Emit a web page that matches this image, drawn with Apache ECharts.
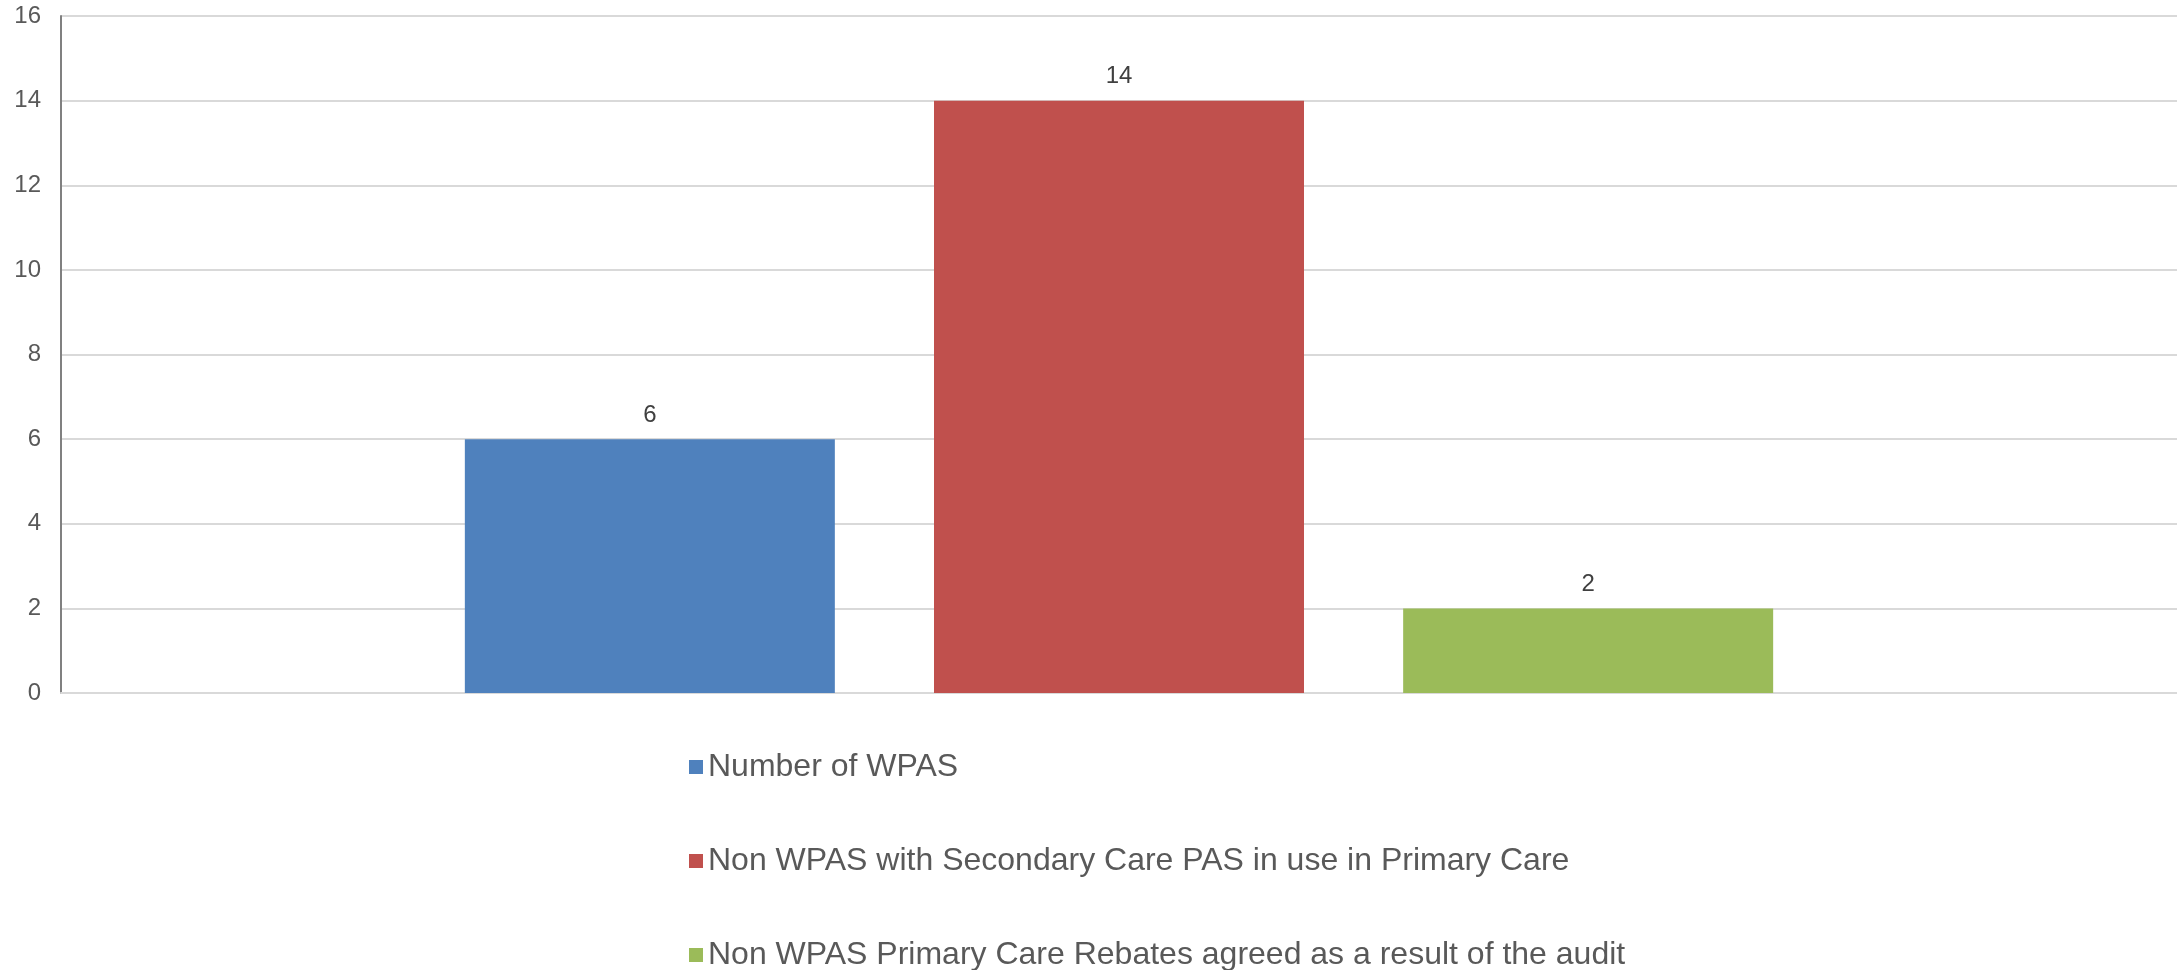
<!DOCTYPE html>
<html>
<head>
<meta charset="utf-8">
<script src="https://cdn.jsdelivr.net/npm/echarts@6/dist/echarts.min.js"></script>
<style>
  html, body { margin: 0; padding: 0; background: #fff; }
  #chart { width: 2177px; height: 970px; }
</style>
</head>
<body>
<div id="chart"></div>
<script>
// data
const categories = [''];
const seriesNames = [
  'Number of WPAS',
  'Non WPAS with Secondary Care PAS in use in Primary Care',
  'Non WPAS Primary Care Rebates agreed as a result of the audit'
];
const seriesValues = [[6], [14], [2]];
const yTicks = { min: 0, max: 16, step: 2 };

const chart = echarts.init(document.getElementById('chart'));
const font = '"Liberation Sans", Arial, sans-serif';

const option = {
  animation: false,
  color: ['#4f81bd', '#c0504d', '#9bbb59'],
  textStyle: { fontFamily: font },
  grid: { left: 61, right: 0, top: 16, bottom: 277 },
  legend: {
    orient: 'vertical',
    left: 689,
    top: 751,
    height: 400,
    padding: 0,
    icon: 'rect',
    itemWidth: 14,
    itemHeight: 14,
    itemGap: 62,
    textStyle: { fontSize: 32, color: '#595959', fontFamily: font },
    data: seriesNames
  },
  xAxis: {
    type: 'category',
    data: categories,
    axisLine: { lineStyle: { color: '#d9d9d9', width: 2 } },
    axisTick: { show: false },
    axisLabel: { show: false }
  },
  yAxis: {
    type: 'value',
    min: yTicks.min,
    max: yTicks.max,
    interval: yTicks.step,
    axisLine: { show: true, lineStyle: { color: '#808080', width: 2 } },
    axisTick: { show: false },
    axisLabel: { fontSize: 24, color: '#595959', margin: 20, fontFamily: font },
    splitLine: { lineStyle: { color: '#d9d9d9', width: 2 } }
  },
  series: seriesNames.map((name, i) => ({
    name: name,
    type: 'bar',
    data: seriesValues[i],
    barWidth: 370,
    barGap: '26.8%',
    label: {
      show: true,
      position: 'top',
      distance: 12,
      fontSize: 24,
      color: '#404040',
      fontFamily: font
    }
  }))
};

chart.setOption(option);
</script>
</body>
</html>
